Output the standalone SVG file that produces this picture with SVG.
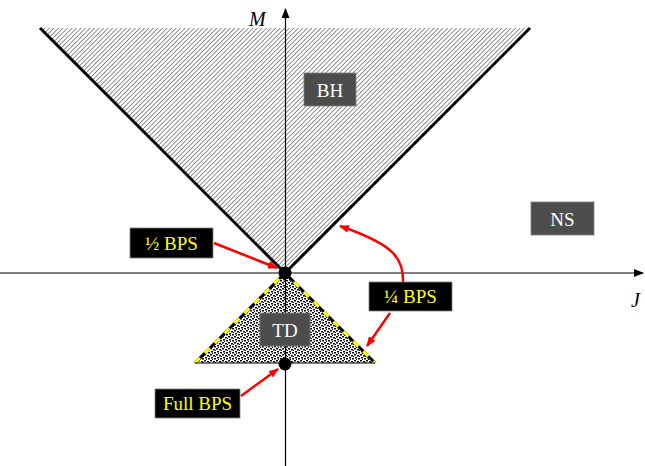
<svg xmlns="http://www.w3.org/2000/svg" width="645" height="466" viewBox="0 0 645 466">
<style>
.lbl{fill:#4d4d4d;stroke:#7f7f7f;stroke-width:0.8}
.lt{font-family:"Liberation Serif",serif;font-size:19px;fill:#fff;text-anchor:middle}
.bx{fill:#000;stroke:#7f7f7f;stroke-width:0.8}
.bt{font-family:"Liberation Serif",serif;font-size:19px;fill:#ffff00;text-anchor:middle}
.ax{stroke:#000;stroke-width:1.2;fill:none}
.red{stroke:#ff0000;stroke-width:2.5;fill:none;marker-end:url(#ra)}
.it{font-family:"Liberation Serif",serif;font-size:20px;font-style:italic;fill:#000}
</style>
<defs>
<pattern id="hatch" width="3.2" height="3.2" patternUnits="userSpaceOnUse" patternTransform="rotate(45)">
<rect width="3.2" height="3.2" fill="#fff"/>
<line x1="0" y1="0" x2="0" y2="3.2" stroke="#707070" stroke-width="1.5"/>
</pattern>
<pattern id="stip" width="6" height="6" patternUnits="userSpaceOnUse">
<rect width="6" height="6" fill="#fff"/>
<rect x="0" y="0" width="2" height="1.5" fill="#000"/>
<rect x="3" y="1" width="2" height="1.5" fill="#000"/>
<rect x="1" y="3" width="2" height="1.5" fill="#000"/>
<rect x="4" y="4" width="2" height="1.5" fill="#000"/>
<rect x="5" y="2" width="1" height="1" fill="#000"/>
<rect x="2" y="5" width="1" height="1" fill="#000"/>
</pattern>
<marker id="ra" markerWidth="10" markerHeight="8" refX="9" refY="4" orient="auto" markerUnits="userSpaceOnUse">
<path d="M0,0 L10,4 L0,8 Z" fill="#ff0000"/>
</marker>
<marker id="ka" markerWidth="10" markerHeight="8" refX="9" refY="4" orient="auto" markerUnits="userSpaceOnUse">
<path d="M0,0 L10,4 L0,8 Z" fill="#000"/>
</marker>
</defs>
<rect width="645" height="466" fill="#fff"/>

<g id="region-bh-shape">
<polygon points="40,28 530,28 285,273" fill="url(#hatch)"/>
<line x1="40" y1="28" x2="285" y2="273" stroke="#000" stroke-width="3"/>
<line x1="285" y1="273" x2="530" y2="28" stroke="#000" stroke-width="3"/>
</g>
<g id="region-td-shape">
<polygon points="285,273 375,363 195,363" fill="url(#stip)"/>
<polyline points="195,363 285,273 375,363" fill="none" stroke="#000" stroke-width="3"/>
<polyline points="195,363 285,273 375,363" fill="none" stroke="#ffff00" stroke-width="3" stroke-dasharray="7,7"/>
<line x1="195" y1="363" x2="375" y2="363" stroke="#000" stroke-width="1"/>
</g>

<g id="axes">
<line class="ax" x1="285.5" y1="466" x2="285.5" y2="9" marker-end="url(#ka)"/>
<line class="ax" x1="0" y1="273" x2="643" y2="273" marker-end="url(#ka)"/>
<text class="it" x="249" y="26">M</text>
<text class="it" x="631" y="307">J</text>
</g>

<g id="connectors">
<line class="red" x1="214" y1="243" x2="277" y2="268"/>
<path class="red" d="M403,282 C403,258 395,245 340,226"/>
<line class="red" x1="390" y1="313" x2="367" y2="346"/>
<line class="red" x1="241" y1="396" x2="278" y2="369"/>
</g>

<g id="dot-top"><circle cx="285" cy="273" r="6.5" fill="#000"/></g>
<g id="dot-bottom"><circle cx="285" cy="364" r="6.5" fill="#000"/></g>

<g id="node-bh"><rect class="lbl" x="304" y="73" width="52" height="33"/><text class="lt" x="330" y="96.5">BH</text></g>
<g id="node-ns"><rect class="lbl" x="531" y="202" width="63" height="33"/><text class="lt" x="562.5" y="225.5">NS</text></g>
<g id="node-td"><rect class="lbl" x="260" y="313" width="50" height="33"/><text class="lt" x="285" y="336.5">TD</text></g>
<g id="node-half"><rect class="bx" x="130" y="228" width="83" height="30"/><text class="bt" x="171.5" y="249.5">½ BPS</text></g>
<g id="node-quarter"><rect class="bx" x="369" y="282" width="83" height="29"/><text class="bt" x="410.5" y="303">¼ BPS</text></g>
<g id="node-full"><rect class="bx" x="155" y="389" width="85" height="29"/><text class="bt" x="197.5" y="410">Full BPS</text></g>
</svg>
